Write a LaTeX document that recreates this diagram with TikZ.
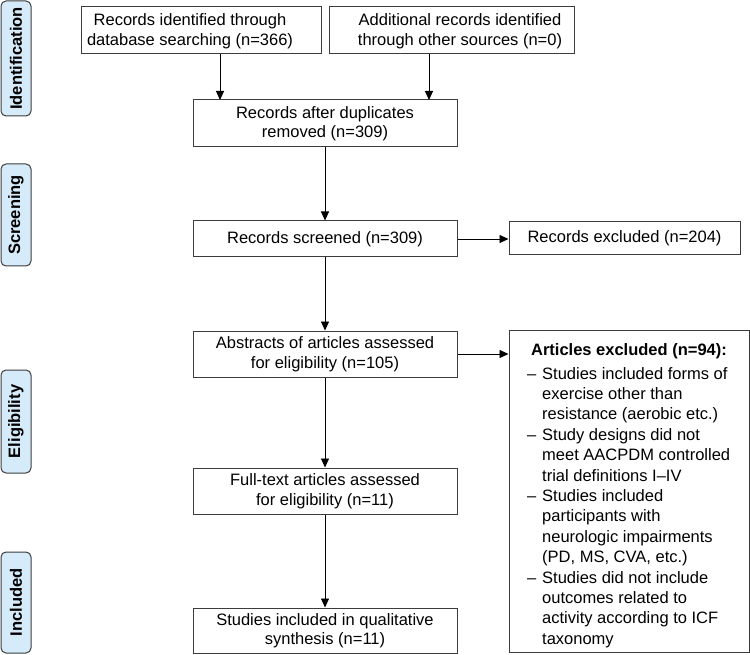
\documentclass[tikz,border=0pt]{standalone}
\usepackage{fontspec}
\setmainfont{Liberation Sans}
\usetikzlibrary{arrows.meta}
\definecolor{tabblue}{RGB}{214,235,250}
\definecolor{edge}{RGB}{60,60,60}
\begin{document}
\begin{tikzpicture}[x=1pt,y=-1pt,
  box/.style={draw=edge,line width=1pt,inner sep=0pt},
  txt/.style={align=center,inner sep=0pt,font=\fontsize{16.5}{19.5}\selectfont},
  tab/.style={draw=edge,line width=1pt,fill=tabblue,rounded corners=5pt,rotate=90,
    minimum height=30pt,inner sep=0pt,font=\fontsize{16.5}{19.5}\selectfont\bfseries},
  arr/.style={draw=black,line width=0.9pt,-{Triangle[width=8pt,length=9pt]}}]
\useasboundingbox (0,0) rectangle (750,655);
% side tabs
\node[tab,minimum width=115pt] (tid) at (16,58.5) {Identification};
\node[tab,minimum width=102pt] (tsc) at (16,215) {Screening};
\node[tab,minimum width=103pt] (tel) at (16,421.5) {Eligibility};
\node[tab,minimum width=101pt] (tin) at (16,602.5) {Included};
% boxes
\node[box,minimum width=240pt,minimum height=47pt] (b1) at (201,30.5) {};
\node[txt] (b1t) at (190,31) {Records identified through\\database searching (n=366)};
\node[box,minimum width=245pt,minimum height=47pt] (b2) at (451.5,30.5) {};
\node[txt] (b2t) at (460,31) {Additional records identified\\through other sources (n=0)};
\node[box,txt,minimum width=264pt,minimum height=47pt] (b3) at (325,123.5) {Records after duplicates\\removed (n=309)};
\node[box,txt,minimum width=264pt,minimum height=36pt] (b4) at (325,239) {Records screened (n=309)};
\node[box,txt,minimum width=231pt,minimum height=33pt] (ex1) at (624.5,238.5) {Records excluded (n=204)};
\node[box,txt,minimum width=264pt,minimum height=46pt] (b5) at (325,354) {Abstracts of articles assessed\\for eligibility (n=105)};
\node[box,minimum width=240pt,minimum height=322pt] (ex2) at (629,491) {};
\node[txt,font=\fontsize{16.5}{19.5}\selectfont\bfseries] (ex2t) at (629,351) {Articles excluded (n=94):};
\node[anchor=north west,inner sep=0pt,align=left,font=\fontsize{16.5}{20.4}\selectfont] (ex2l) at (527,367) {%
\makebox[15pt][l]{–}Studies included forms of\\
\hspace*{15pt}exercise other than\\
\hspace*{15pt}resistance (aerobic etc.)\\
\makebox[15pt][l]{–}Study designs did not\\
\hspace*{15pt}meet AACPDM controlled\\
\hspace*{15pt}trial definitions I–IV\\
\makebox[15pt][l]{–}Studies included\\
\hspace*{15pt}participants with\\
\hspace*{15pt}neurologic impairments\\
\hspace*{15pt}(PD, MS, CVA, etc.)\\
\makebox[15pt][l]{–}Studies did not include\\
\hspace*{15pt}outcomes related to\\
\hspace*{15pt}activity according to ICF\\
\hspace*{15pt}taxonomy};
\node[box,txt,minimum width=264pt,minimum height=46pt] (b6) at (325,491) {Full-text articles assessed\\for eligibility (n=11)};
\node[box,txt,minimum width=264pt,minimum height=45pt] (b7) at (325,630.5) {Studies included in qualitative\\synthesis (n=11)};
% connectors
\coordinate (t1) at (220,100);
\coordinate (t2) at (429,100);
\draw[arr] (b1.south -| t1) -- (t1);
\draw[arr] (b2.south -| t2) -- (t2);
\draw[arr] (b3) -- (b4);
\draw[arr] (b4.east) -- (b4.east -| ex1.west);
\draw[arr] (b4) -- (b5);
\draw[arr] (b5.east) -- (b5.east -| ex2.west);
\draw[arr] (b5) -- (b6);
\draw[arr] (b6) -- (b7);
\end{tikzpicture}
\end{document}
